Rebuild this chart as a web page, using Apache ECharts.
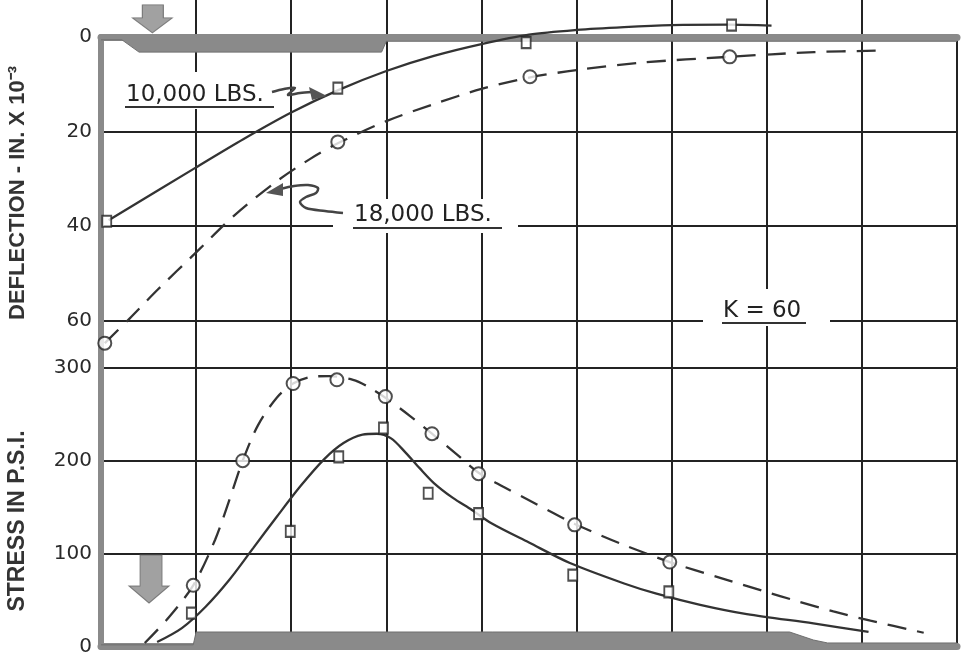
<!DOCTYPE html>
<html><head><meta charset="utf-8">
<script src="https://cdn.jsdelivr.net/npm/echarts@6/dist/echarts.min.js"></script>
<style>html,body{margin:0;padding:0;background:#fff}#c{width:963px;height:667px}</style>
</head><body><div id="c"></div>
<script>
// ---- data (x: grid stations 0..9, unlabeled) ----
const deflTicks = [0, 20, 40, 60];
const stressTicks = [0, 100, 200, 300];

const defl10kPoints = [[0.06,39],[2.49,10.8],[4.47,1.2],[6.63,-2.5]];
const defl10kCurve = [[0.08,38.8],[1.0,27.6],[1.5,21.6],[2.0,16.0],[2.5,11.2],[3.0,7.2],[3.5,4.0],[4.0,1.5],[4.5,-0.5],[5.0,-1.5],[5.5,-2.1],[6.0,-2.5],[6.6,-2.6],[7.05,-2.4]];
const defl18kPoints = [[0.04,64.8],[2.49,22.2],[4.51,8.4],[6.61,4.2]];
const defl18kCurve = [[0.04,64.8],[0.3,59.6],[0.6,53.4],[1.0,45.6],[1.4,37.8],[1.85,30.5],[2.2,25.8],[2.5,22.4],[3.0,17.8],[3.5,14.2],[4.0,11.0],[4.5,8.6],[5.0,7.0],[5.7,5.4],[6.6,4.2],[7.5,3.2],[8.16,2.9]];

const stress10kPoints = [[0.95,36],[1.99,124],[2.5,204],[2.97,235],[3.44,165],[3.97,143],[4.96,77],[5.97,59]];
const stress10kCurve = [[0.59,5],[0.85,20],[1.1,43],[1.35,72],[1.6,106],[1.85,140],[2.1,173],[2.35,202],[2.55,219],[2.75,228],[2.9,229],[3.05,224],[3.2,209],[3.35,192],[3.5,176],[3.7,160],[3.9,147],[4.1,133],[4.5,112],[4.93,90],[5.5,68],[5.84,57],[6.3,45],[6.79,35],[7.49,25],[8.07,16]];
const stress18kPoints = [[0.97,66],[1.49,200],[2.02,283],[2.48,287],[2.99,269],[3.48,229],[3.97,186],[4.98,131],[5.98,91]];
const stress18kCurve = [[0.46,4],[0.7,30],[0.97,66],[1.2,115],[1.35,158],[1.49,200],[1.65,238],[1.85,268],[2.02,283],[2.2,290],[2.4,291],[2.65,287],[2.8,280],[3.0,267],[3.25,248],[3.48,229],[3.75,206],[3.97,187],[4.23,172],[4.49,158],[4.75,144],[4.98,132],[5.46,111],[5.98,91],[6.51,74],[6.96,60],[7.32,49],[7.7,38],[8.09,28],[8.65,15]];

// pavement slab outlines and load arrows (decorative)
const slabTop = [[0,0.6],[0.22,0.6],[0.4,3.2],[2.95,3.2],[3.0,0.9],[9,0.9]];
const slabBottom = [[0,2],[0.97,2],[1.0,15.8],[7.24,15.8],[7.49,7.2],[7.64,4],[9,4]];
const loadArrowTop = [[0.54, 0.49]];
const loadArrowBottom = [[0.505, 72.8]];

const INK = '#232323';
const GREY = '#8a8a8a';
const FONT = '"DejaVu Sans", sans-serif';

const chart = echarts.init(document.getElementById('c'), null, {renderer: 'canvas'});

const gridLine = {show: true, lineStyle: {color: INK, width: 2}};
function xAx(gi, pos, showLine) {
  return {
    type: 'value', gridIndex: gi, min: 0, max: 9, interval: 1, position: pos,
    axisLine: {show: showLine, onZero: false, lineStyle: {color: GREY, width: 7}},
    axisTick: {show: false}, axisLabel: {show: false}, splitLine: gridLine
  };
}
const curveBase = {type: 'line', symbol: 'none', smooth: 0.3, z: 3};

const option = {
  animation: false,
  backgroundColor: '#fff',
  grid: [
    {left: 101, top: 37, width: 856, height: 330.7},
    {left: 101, top: 367.7, width: 856, height: 279},
    {left: 196.1, top: 0, width: 665.7, height: 37},
    {left: 101, top: 0, width: 856, height: 37}
  ],
  xAxis: [
    xAx(0, 'top', true),
    xAx(1, 'bottom', true),
    {type: 'value', gridIndex: 2, min: 1, max: 8, interval: 1,
     axisLine: {show: false}, axisTick: {show: false}, axisLabel: {show: false}, splitLine: gridLine},
    {type: 'value', gridIndex: 3, min: 0, max: 9, show: false}
  ],
  yAxis: [
    {type: 'value', gridIndex: 0, inverse: true, min: deflTicks[0], max: 70, interval: 20,
     axisLine: {show: true, onZero: false, lineStyle: {color: GREY, width: 6}},
     axisTick: {show: false},
     axisLabel: {showMaxLabel: false, fontSize: 20, fontFamily: FONT, color: '#2a2a2a', margin: 9,
       formatter: v => deflTicks.indexOf(v) >= 0 ? String(v) : ''},
     splitLine: gridLine},
    {type: 'value', gridIndex: 1, min: stressTicks[0], max: stressTicks[stressTicks.length - 1], interval: 100,
     axisLine: {show: true, onZero: false, lineStyle: {color: GREY, width: 6}},
     axisTick: {show: false},
     axisLabel: {fontSize: 20, fontFamily: FONT, color: '#2a2a2a', margin: 9},
     splitLine: gridLine},
    {type: 'value', gridIndex: 2, min: 0, max: 1, show: false},
    {type: 'value', gridIndex: 3, min: 0, max: 1, show: false}
  ],
  series: [
    {type: 'line', name: 'slab-top', xAxisIndex: 0, yAxisIndex: 0, data: slabTop, silent: true,
     symbol: 'none', z: 1, lineStyle: {color: '#6f6f6f', width: 1},
     areaStyle: {color: GREY, opacity: 1, origin: 'start'}},
    {type: 'line', name: 'slab-bottom', xAxisIndex: 1, yAxisIndex: 1, data: slabBottom, silent: true,
     symbol: 'none', z: 1, lineStyle: {color: '#6f6f6f', width: 1},
     areaStyle: {color: GREY, opacity: 1, origin: 'start'}},
    {type: 'scatter', name: 'load-top', xAxisIndex: 3, yAxisIndex: 3, data: loadArrowTop, silent: true, z: 2,
     symbol: 'path://M10,0 L31,0 L31,13 L40,13 L20,28 L0,13 L10,13 Z', symbolSize: [40, 28],
     itemStyle: {color: GREY, borderColor: '#666', borderWidth: 1}},
    {type: 'scatter', name: 'load-bottom', xAxisIndex: 1, yAxisIndex: 1, data: loadArrowBottom, silent: true, z: 2,
     symbol: 'path://M11,0 L33,0 L33,31 L40,31 L20,48 L0,31 L11,31 Z', symbolSize: [40, 48],
     itemStyle: {color: GREY, borderColor: '#666', borderWidth: 1}},

    Object.assign({}, curveBase, {name: '10,000 LBS.', xAxisIndex: 0, yAxisIndex: 0, data: defl10kCurve,
     clip: false, lineStyle: {color: '#333', width: 2.3}}),
    Object.assign({}, curveBase, {name: '18,000 LBS.', xAxisIndex: 0, yAxisIndex: 0, data: defl18kCurve,
     clip: false, lineStyle: {color: '#333', width: 2.3, type: [19, 11]}}),
    Object.assign({}, curveBase, {name: '10,000 LBS. stress', xAxisIndex: 1, yAxisIndex: 1, data: stress10kCurve,
     lineStyle: {color: '#333', width: 2.3}}),
    Object.assign({}, curveBase, {name: '18,000 LBS. stress', xAxisIndex: 1, yAxisIndex: 1, data: stress18kCurve,
     lineStyle: {color: '#333', width: 2.3, type: [19, 11]}}),

    {type: 'scatter', xAxisIndex: 0, yAxisIndex: 0, data: defl10kPoints, clip: false, z: 5,
     symbol: 'rect', symbolSize: [9, 11], itemStyle: {color: '#fff', borderColor: INK, borderWidth: 2}},
    {type: 'scatter', xAxisIndex: 0, yAxisIndex: 0, data: defl18kPoints, clip: false, z: 5,
     symbol: 'circle', symbolSize: 13, itemStyle: {color: '#fff', borderColor: INK, borderWidth: 2}},
    {type: 'scatter', xAxisIndex: 1, yAxisIndex: 1, data: stress10kPoints, z: 5,
     symbol: 'rect', symbolSize: [9, 11], itemStyle: {color: '#fff', borderColor: INK, borderWidth: 2}},
    {type: 'scatter', xAxisIndex: 1, yAxisIndex: 1, data: stress18kPoints, z: 5,
     symbol: 'circle', symbolSize: 13, itemStyle: {color: '#fff', borderColor: INK, borderWidth: 2}}
  ],
  graphic: [
    // axis titles
    {type: 'text', x: 18, y: 193, rotation: Math.PI / 2, z: 20,
     style: {text: 'DEFLECTION - IN. X 10⁻³', font: 'bold 22px "Liberation Sans", sans-serif', fill: '#333',
             textAlign: 'center', textVerticalAlign: 'middle', align: 'center', verticalAlign: 'middle'}},
    {type: 'text', x: 18, y: 521, rotation: Math.PI / 2, z: 20,
     style: {text: 'STRESS IN P.S.I.', font: 'bold 23px "Liberation Sans", sans-serif', fill: '#333',
             textAlign: 'center', textVerticalAlign: 'middle', align: 'center', verticalAlign: 'middle'}},
    // white gaps in the grid behind annotations
    {type: 'rect', z: 10, shape: {x: 115, y: 72, width: 165, height: 37}, style: {fill: '#fff'}},
    {type: 'rect', z: 10, shape: {x: 333, y: 199, width: 185, height: 34}, style: {fill: '#fff'}},
    {type: 'rect', z: 10, shape: {x: 703, y: 289, width: 127, height: 37}, style: {fill: '#fff'}},
    // annotation texts
    {type: 'text', x: 126, y: 95, z: 20,
     style: {text: '10,000 LBS.', font: '23px ' + FONT, fill: '#222', textVerticalAlign: 'middle', verticalAlign: 'middle'}},
    {type: 'text', x: 354, y: 215, z: 20,
     style: {text: '18,000 LBS.', font: '23px ' + FONT, fill: '#222', textVerticalAlign: 'middle', verticalAlign: 'middle'}},
    {type: 'text', x: 723, y: 311, z: 20,
     style: {text: 'K = 60', font: '23px ' + FONT, fill: '#222', textVerticalAlign: 'middle', verticalAlign: 'middle'}},
    // underlines
    {type: 'line', z: 20, shape: {x1: 125, y1: 107, x2: 274, y2: 107}, style: {stroke: '#333', lineWidth: 2}},
    {type: 'line', z: 20, shape: {x1: 353, y1: 228, x2: 502, y2: 228}, style: {stroke: '#333', lineWidth: 2}},
    {type: 'line', z: 20, shape: {x1: 722, y1: 323, x2: 806, y2: 323}, style: {stroke: '#333', lineWidth: 2}},
    // leaders
    {type: 'polyline', z: 20, shape: {points: [[272,92],[284,89],[295,88],[288,95],[300,93],[312,92]], smooth: 0.3},
     style: {stroke: '#444', lineWidth: 2.5, fill: null}},
    {type: 'polygon', z: 20, shape: {points: [[327,96],[309,87],[312,100]]}, style: {fill: '#555'}},
    {type: 'polyline', z: 20, shape: {points: [[343,213],[325,211],[306,208],[300,202],[306,197],[316,193],[318,188],[308,185],[294,186],[280,189]], smooth: 0.3},
     style: {stroke: '#444', lineWidth: 2.5, fill: null}},
    {type: 'polygon', z: 20, shape: {points: [[266,193],[283,183],[283,196]]}, style: {fill: '#555'}}
  ]
};
chart.setOption(option);
</script>
</body></html>
